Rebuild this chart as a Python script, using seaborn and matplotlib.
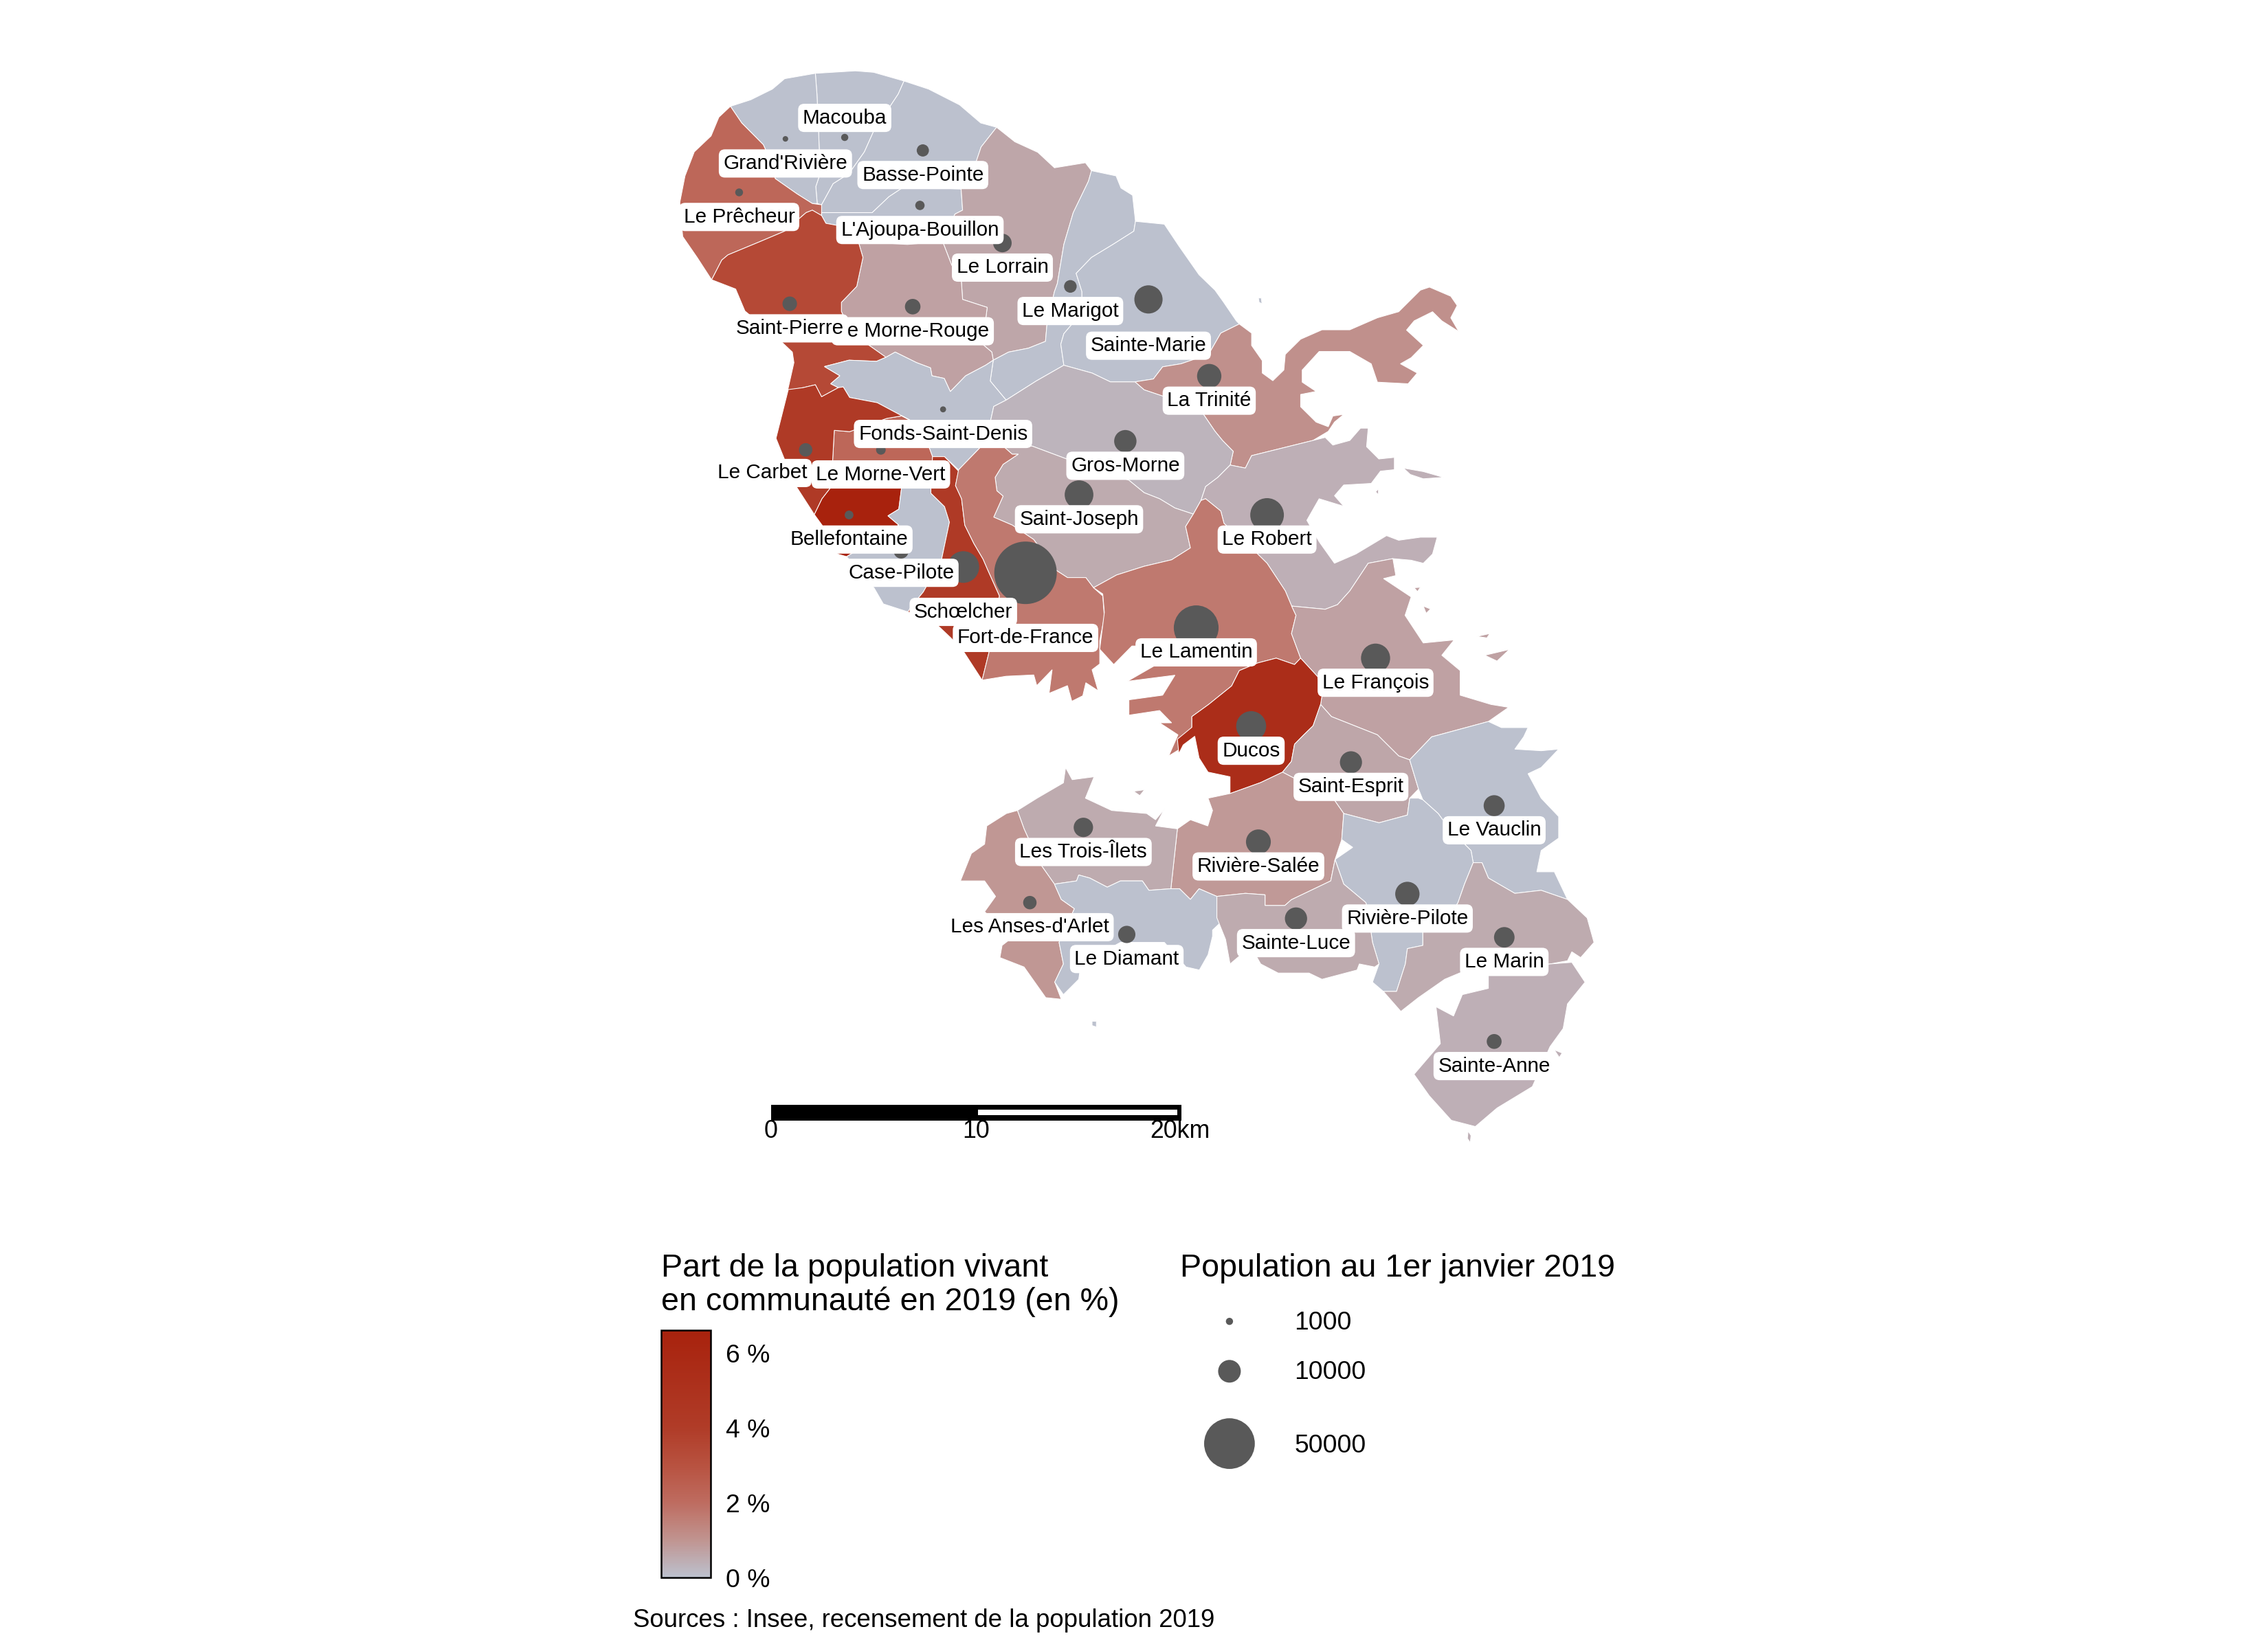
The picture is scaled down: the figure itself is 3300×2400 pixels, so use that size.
# -*- coding: utf-8 -*-
"""Part de la population vivant en communaute, Martinique, 2019."""

import matplotlib.pyplot as plt
import matplotlib.cm as cm
from matplotlib.colors import LinearSegmentedColormap, Normalize
import pandas as pd
import seaborn as sns

communes = ["Macouba", "Grand'Rivière", "Basse-Pointe", "Le Prêcheur", "L'Ajoupa-Bouillon",
            "Le Lorrain", "Le Marigot", "Sainte-Marie", "Le Morne-Rouge", "Saint-Pierre",
            "La Trinité", "Fonds-Saint-Denis", "Le Morne-Vert", "Le Carbet", "Gros-Morne",
            "Saint-Joseph", "Le Robert", "Bellefontaine", "Case-Pilote", "Schœlcher",
            "Fort-de-France", "Le Lamentin", "Le François", "Ducos", "Saint-Esprit",
            "Le Vauclin", "Rivière-Salée", "Les Trois-Îlets", "Rivière-Pilote",
            "Les Anses-d'Arlet", "Le Diamant", "Sainte-Luce", "Le Marin", "Sainte-Anne"]
part_communaute = [0.0, 0.0, 0.0, 2.2, 0.0, 0.6, 0.0, 0.0, 0.7, 3.4,
                   1.1, 0.0, 2.2, 4.2, 0.3, 0.5, 0.4, 6.6, 0.0, 4.2,
                   1.7, 1.7, 0.7, 5.5, 0.6, 0.0, 0.9, 0.5, 0.0,
                   0.95, 0.0, 0.5, 0.5, 0.4]
population = [1000, 600, 2900, 1200, 1700, 6700, 3100, 15500, 4700, 4100,
              11500, 700, 1800, 3500, 9700, 16000, 22000, 1500, 4300, 19500,
              76000, 39000, 16500, 17500, 9500, 8600, 12000, 7300, 11500,
              3500, 5800, 9600, 8200, 4300]
centre_x = [584, 543, 638, 511, 636, 693, 740, 794, 631, 546,
            836, 652, 609, 557, 778, 746, 876, 587, 623, 666,
            709, 827, 951, 865, 934, 1033, 870, 749, 973,
            712, 779, 896, 1040, 1033]
centre_y = [95, 96, 104, 133, 142, 168, 198, 207, 212, 210,
            260, 283, 311, 311, 305, 342, 356, 356, 381, 392,
            396, 434, 455, 502, 527, 557, 582, 572, 618,
            624, 646, 635, 648, 720]

legende_population = [1000, 10000, 50000]
ticks_part = [0, 2, 4, 6]
part_max = 6.62
couleurs_valeurs = [0, 1, 2, 3, 4, 6.62]
couleurs_hex = ["#BCC1CE", "#C09490", "#BE6C60", "#B85240", "#B03C28", "#A8220D"]

# contours des communes (coordonnees de la carte)
contours = {
    "Le Prêcheur": [[(505, 73.5), (497, 81), (491.6, 94), (480, 105), (473.6, 121.6), (470, 140), (472, 163.5),
                     (482, 178), (492, 193.4), (499, 179.8), (503.3, 176.2), (525.5, 167), (542.5, 159.8),
                     (557.3, 147), (561.6, 145.3), (568, 149), (568, 141.6), (561.6, 140.7), (551, 134),
                     (536, 123.5), (530, 105), (527.7, 100), (512.8, 85)]],
    "Grand'Rivière": [[(505, 73.5), (519, 69), (534, 61.6), (542.5, 54.4), (563.7, 50.7), (564.8, 65),
                       (566, 92.5), (567, 120), (564, 129), (565, 140.7), (561.6, 140.7), (551, 134),
                       (536, 123.5), (530, 105), (527.7, 100), (512.8, 85)]],
    "Macouba": [[(563.7, 50.7), (591.3, 49), (604, 50), (625, 56), (621, 65), (604, 90.7), (597.6, 105),
                 (587, 120), (576, 127), (568, 141.6), (565, 140.7), (564, 129), (567, 120), (566, 92.5),
                 (564.8, 65)]],
    "Basse-Pointe": [[(625, 56), (642, 61.6), (663.4, 72.5), (678, 85), (689, 88), (678.3, 101.6), (674, 114.4),
                      (664.5, 130.7), (625.2, 129), (614.6, 136), (603, 147), (568, 147), (568, 141.6),
                      (576, 127), (587, 120), (597.6, 105), (604, 90.7), (621, 65)]],
    "L'Ajoupa-Bouillon": [[(568, 147), (603, 147), (614.6, 136), (625.2, 129), (664.5, 130.7), (665.5, 145.3),
                           (660.2, 148), (651.7, 167), (627.3, 169), (593.4, 167), (578.6, 155.8), (571, 154.4),
                           (568, 149)]],
    "Saint-Pierre": [[(492, 193.4), (499, 179.8), (503.3, 176.2), (525.5, 167), (542.5, 159.8), (557.3, 147),
                      (561.6, 145.3), (568, 149), (571, 154.4), (578.6, 155.8), (593.4, 167), (596.6, 178),
                      (592.3, 198), (581.7, 209), (581.7, 215.3), (587, 227), (599.8, 238), (612.5, 247),
                      (606, 249.8), (587, 249), (570, 253.4), (580.7, 259.8), (574.3, 265.3), (579.6, 268),
                      (568, 274.3), (563.7, 266), (555.2, 268), (544.6, 269.8), (548.9, 250.7), (547.8, 243.4),
                      (537.2, 233.4), (515, 215), (508.6, 199.8)]],
    "Le Morne-Rouge": [[(593.4, 167), (627.3, 169), (651.7, 167), (658, 183.4), (664.5, 192.5), (665.5, 207),
                        (682.5, 212.5), (679.3, 238), (685.7, 243.4), (686.7, 249), (681.4, 252.5), (667.6, 259.8),
                        (657, 270.7), (652.8, 261.6), (644.3, 259.8), (643.3, 254.3), (633.7, 250.7),
                        (618.9, 243.4), (612.5, 247), (599.8, 238), (587, 227), (581.7, 215.3), (581.7, 209),
                        (592.3, 198), (596.6, 178)]],
    "Le Lorrain": [[(689, 88), (701.6, 98), (717.5, 105.3), (729, 116), (750.4, 112.5), (754.6, 118), (752.5, 125.3),
                    (742, 147), (735.5, 169), (731, 196), (729, 201.6), (723.9, 223.4), (722.8, 236), (711, 240.7),
                    (697.3, 243.4), (686.7, 249), (685.7, 243.4), (679.3, 238), (682.5, 212.5), (665.5, 207),
                    (664.5, 192.5), (658, 183.4), (651.7, 167), (660.2, 148), (665.5, 145.3), (664.5, 130.7),
                    (674, 114.4), (678.3, 101.6)]],
    "Le Marigot": [[(754.6, 118), (771.6, 121.6), (775, 130), (783, 135), (785, 153), (783.9, 159.8), (769.4, 169),
                    (754.6, 178), (744, 189), (748, 201.6), (748, 216), (735.5, 230.7), (733.4, 238), (735.5, 252.5),
                    (716.4, 263.4), (695.6, 276.6), (684.6, 263.4), (686.7, 249), (697.3, 243.4), (711, 240.7),
                    (722.8, 236), (723.9, 223.4), (729, 201.6), (731, 196), (735.5, 169), (742, 147), (752.5, 125.3)]],
    "Sainte-Marie": [[(785, 153), (805, 155), (815, 170), (829, 190), (840, 200.6), (846, 209), (854.7, 221.8),
                      (856.8, 224), (844, 230.3), (835.6, 245), (816.5, 251.5), (803.8, 253.6), (797.4, 262),
                      (784.7, 264), (767.7, 264), (755, 257.9), (735.5, 252.5), (733.4, 238), (735.5, 230.7),
                      (748, 216), (748, 201.6), (744, 189), (754.6, 178), (769.4, 169), (783.9, 159.8)],
                     [(870, 206), (872, 206), (872.5, 210), (870.5, 209)]],
    "La Trinité": [[(856.8, 224), (865.3, 230.3), (865.3, 238.8), (872.7, 249.4), (872.7, 257.9), (880, 263.2),
                    (887.6, 255.8), (888.6, 245), (899.2, 234.5), (914, 228), (933.2, 228), (952.3, 219.7),
                    (967, 215.5), (982, 200.6), (988.3, 198.5), (1003, 204.8), (1007.4, 211.2), (1003, 219.7),
                    (1008.5, 229.2), (996.8, 221.8), (990.4, 215.5), (977.7, 221.8), (972.4, 228.2), (984, 238.8),
                    (975.6, 247.3), (968.2, 251.5), (979.8, 257.9), (973.5, 265.3), (952.3, 264.2), (948, 251.5),
                    (933.2, 243), (912, 243), (900.3, 255.8), (900.3, 264.2), (909.9, 270.6), (899.2, 272.7),
                    (899.2, 281.2), (909.9, 291.8), (918.3, 295), (921.5, 287.6), (929, 286.5), (922.6, 291.8),
                    (918.3, 298.2), (907.7, 304.5), (865.3, 315), (861, 323.6), (850.5, 321.5), (852.6, 312),
                    (845.2, 304.5), (839.9, 298), (831.4, 285.5), (803.8, 273.8), (791, 269.5), (784.7, 264),
                    (797.4, 262), (803.8, 253.6), (816.5, 251.5), (835.6, 245), (844, 230.3)]],
    "Gros-Morne": [[(695.6, 276.6), (716.4, 263.4), (735.5, 252.5), (755, 257.9), (767.7, 264), (784.7, 264),
                    (791, 269.5), (803.8, 273.8), (831.4, 285.5), (839.9, 298), (845.2, 304.5), (852.6, 312),
                    (850.5, 321.5), (842, 330), (833.5, 336.4), (830.3, 346), (825, 355.4), (812.3, 351.2),
                    (801.7, 344.8), (791, 340.6), (780.5, 332), (738, 317.5), (713.6, 308.4), (693.5, 308.4),
                    (685, 290.2), (687, 281)]],
    "Saint-Joseph": [[(693.5, 308.4), (713.6, 308.4), (738, 317.5), (780.5, 332), (791, 340.6), (801.7, 344.8),
                      (812.3, 351.2), (825, 355.4), (819.7, 364), (823, 378.8), (810, 387), (791, 391.5),
                      (772, 397.5), (756, 406.3), (750.7, 399.3), (738, 399.3), (729.5, 393.8), (714.7, 373),
                      (699.8, 363), (687, 357.5), (693.5, 343), (689.2, 339.3), (688, 330), (693.5, 321),
                      (704, 314), (699.8, 314)]],
    "Fonds-Saint-Denis": [[(570, 253.4), (587, 249), (606, 249.8), (612.5, 247), (618.9, 243.4), (633.7, 250.7),
                           (643.3, 254.3), (644.3, 259.8), (652.8, 261.6), (657, 270.7), (667.6, 259.8),
                           (681.4, 252.5), (686.7, 249), (684.6, 263.4), (695.6, 276.6), (687, 281), (685, 290.2),
                           (693.5, 308.4), (678.6, 308.4), (662.7, 324.8), (653, 315.7), (644.7, 315.7), (642.6, 310),
                           (632, 292), (606.5, 278.4), (587.4, 274.8), (583, 267.5), (579.6, 268), (574.3, 265.3),
                           (580.7, 259.8)]],
    "Le Carbet": [[(545, 269.3), (536.5, 303), (549, 334), (563, 355.7), (568.3, 344.8), (574.7, 336.6),
                   (575.7, 317.5), (576.8, 297.5), (587.4, 298.4), (612.9, 289.3), (623.5, 287.5), (632, 292),
                   (606.5, 278.4), (587.4, 274.8), (583, 267.5), (579.6, 268), (568, 274.3), (563.7, 266),
                   (555.2, 268)]],
    "Le Morne-Vert": [[(576.8, 297.5), (587.4, 298.4), (612.9, 289.3), (623.5, 287.5), (632, 292), (642.6, 310),
                       (644.7, 315.7), (643.6, 336.6), (623.5, 335.7), (574.7, 336.6), (575.7, 317.5)]],
    "Bellefontaine": [[(574.7, 336.6), (623.5, 335.7), (621.4, 352), (613.9, 356.6), (621.4, 363), (591.7, 381),
                       (585.3, 384.8), (579, 383), (576.8, 379.3), (568.3, 363), (563, 355.7), (568.3, 344.8)]],
    "Case-Pilote": [[(623.5, 335.7), (643.6, 336.6), (643.6, 341), (653, 350.2), (656.4, 361), (651, 386.6),
                     (638.3, 409.3), (630, 419.3), (627.7, 423), (610.7, 417.5), (604.4, 406.6), (585.3, 384.8),
                     (591.7, 381), (621.4, 363), (613.9, 356.6), (621.4, 352)]],
    "Schœlcher": [[(644.7, 315.7), (653, 315.7), (662.7, 325.7), (660.6, 335.7), (664.8, 344.8), (667, 363),
                   (673.3, 375.7), (679.7, 386.6), (682.9, 394), (691, 412), (684, 450), (679, 470.2),
                   (665.9, 450), (657.4, 441), (647.9, 432), (627.7, 423), (630, 419.3), (638.3, 409.3),
                   (651, 386.6), (656.4, 361), (653, 350.2), (643.6, 341), (643.6, 336.6)]],
    "Fort-de-France": [[(678.6, 308.4), (693.5, 308.4), (699.8, 314), (704, 314), (693.5, 321), (688, 330),
                        (689.2, 339.3), (693.5, 343), (687, 357.5), (699.8, 363), (714.7, 373), (729.5, 393.8),
                        (738, 399.3), (750.7, 399.3), (756, 406.3), (762.4, 412), (763.5, 426.6), (760.3, 443),
                        (760.3, 459), (755, 463), (759.2, 477.5), (750.7, 472), (748.6, 481), (741, 484.8),
                        (738, 474), (725.3, 479.3), (727.4, 463), (716.8, 474), (714.7, 466.6), (695.6, 467.5),
                        (679, 470.2), (684, 450), (691, 412), (682.9, 394), (679.7, 386.6), (673.3, 375.7),
                        (667, 363), (664.8, 344.8), (660.6, 335.7), (662.7, 324.8)]],
    "Le Robert": [[(865.3, 315), (907.7, 304.5), (916.2, 302.4), (921.5, 307.7), (933.2, 304.5), (940.6, 296),
                   (945.9, 296), (944.8, 308.8), (953.3, 317.3), (964, 316.2), (964, 324.7), (954.4, 325.7),
                   (948, 334.2), (929, 335.3), (922.6, 342.7), (929, 350), (912, 344.8), (903.5, 359.7), (912, 374.5),
                   (922.6, 389.4), (937.4, 383), (958.6, 370.3), (967, 373.5), (982, 371.4), (993.6, 371.4),
                   (990.4, 383), (984, 389.4), (975.6, 387.3), (963, 386.2), (945.9, 389.4), (933.2, 408.5),
                   (924.7, 418), (916.2, 421.2), (893, 419), (888.6, 408.5), (876, 389.4), (867.4, 380.9),
                   (846.2, 361.8), (844, 353.3), (833.5, 344.8), (830.3, 346), (833.5, 336.4), (842, 330),
                   (850.5, 321.5), (861, 323.6)],
                  [(970.3, 323.6), (984, 326), (998, 330), (984, 331), (975, 328)],
                  [(951, 340), (953, 338), (953, 342)]],
    "Le Lamentin": [[(825, 355.4), (830.3, 346), (833.5, 344.8), (844, 353.3), (846.2, 361.8), (867.4, 380.9),
                     (876, 389.4), (888.6, 408.5), (893, 419), (896, 425.4), (892.9, 438), (899.2, 455), (895, 459.4),
                     (882.3, 455), (869.6, 458.3), (856.8, 463.6), (851.5, 474.2), (835.6, 487), (824, 495.4),
                     (824, 502.8), (818.7, 514.5), (814.4, 518.7), (808, 522.6), (814.4, 508), (801.7, 499.7),
                     (810, 499.7), (801.7, 491.2), (780.5, 494.4), (780.5, 483.8), (803.8, 480.6), (812.3, 466.8),
                     (779.4, 471), (799.6, 459.4), (786.8, 446.6), (782.6, 446.6), (770, 459.4), (760.3, 448.8),
                     (763.5, 423.3), (762.4, 410.6), (756, 406.3), (772, 397.5), (791, 391.5), (810, 387),
                     (823, 378.8), (819.7, 364)]],
    "Le François": [[(893, 419), (916.2, 421.2), (924.7, 418), (933.2, 408.5), (945.9, 389.4), (963, 386.2),
                     (965, 397.9), (956.5, 400), (975.6, 412.7), (971.4, 425.4), (984, 444.5), (1005.3, 442.4),
                     (996.8, 453), (1009.5, 463.6), (1009.5, 480.6), (1030.8, 487), (1043, 489), (1029, 498.8),
                     (989.8, 509.4), (974.6, 525.3), (967, 522.6), (952.3, 508), (920.5, 495.4), (913, 487),
                     (914, 480.6), (911, 467.8), (899.2, 455), (892.9, 438), (896, 425.4)],
                    [(1026.5, 453), (1043.5, 449), (1035, 457)],
                    [(1021, 440), (1030, 438), (1028, 441)],
                    [(977.7, 406.3), (982, 406), (980, 409)],
                    [(984, 419), (989, 421), (986, 424)]],
    "Ducos": [[(856.8, 463.6), (869.6, 458.3), (882.3, 455), (895, 459.4), (899.2, 455), (911, 467.8), (914, 480.6),
               (913, 487), (907.8, 501.8), (901.4, 508), (895, 514.5), (892.8, 526.4), (886.7, 533.8), (871.6, 541),
               (850.4, 548.6), (850.4, 537), (835.2, 533.8), (829, 524), (826, 509), (818, 515), (815, 521),
               (814, 511), (824, 502.8), (824, 495.4), (835.6, 487), (851.5, 474.2)]],
    "Saint-Esprit": [[(913, 487), (920.5, 495.4), (952.3, 508), (967, 522.6), (974.6, 525.3), (980.7, 545.5),
                      (974.6, 551.8), (973, 563.5), (953.4, 568.8), (929, 562.4), (921.6, 551.8), (892.8, 537),
                      (886.7, 533.8), (892.8, 526.4), (895, 514.5), (901.4, 508), (907.8, 501.8)]],
    "Le Vauclin": [[(1029, 498.8), (1038, 503), (1056.4, 503), (1053.4, 509.4), (1047.3, 517.9), (1065.5, 519),
                    (1077.6, 517.9), (1065.5, 530.6), (1056.4, 534.9), (1065.5, 551.8), (1077.6, 564.5),
                    (1077.6, 579.4), (1065.5, 588), (1062.5, 602.7), (1074.6, 602.7), (1083.7, 621.8),
                    (1065.5, 615.5), (1047.3, 617.6), (1029, 607), (1024.6, 596.4), (1018.5, 596.4), (1017, 588),
                    (1002, 573), (994.3, 562.4), (983.7, 552.9), (980.7, 545.5), (974.6, 525.3), (989.8, 509.4)]],
    "Rivière-Pilote": [[(980.7, 551.8), (983.7, 552.9), (994.3, 562.4), (1002, 573), (1017, 588), (1018.5, 596.4),
                        (1012.5, 611.2), (1008, 624), (1002, 634), (983.7, 643), (983.7, 653.6), (973, 655.8),
                        (971.6, 666.4), (965.5, 685.4), (956.4, 685.4), (948.9, 679), (953.4, 666.4), (948.9, 651.5),
                        (945.8, 630.3), (944.3, 624), (929, 611.2), (923, 594.2), (935.2, 585.8), (927.6, 580.4),
                        (929, 562.4), (953.4, 568.8), (973, 563.5), (974.6, 551.8)]],
    "Le Marin": [[(1024.6, 596.4), (1029, 607), (1047.3, 617.6), (1065.5, 615.5), (1083.7, 621.8), (1097.3, 634.6),
                  (1102, 651.5), (1092.8, 662), (1086.7, 658), (1083.7, 664.2), (1071.6, 666.4), (1014, 670.6),
                  (998.8, 677), (980.6, 689.7), (968.5, 699.2), (956.4, 685.4), (965.5, 685.4), (971.6, 666.4),
                  (973, 655.8), (983.7, 653.6), (983.7, 643), (1002, 634), (1008, 624), (1012.5, 611.2),
                  (1018.5, 596.4)]],
    "Sainte-Anne": [[(1071.6, 666.4), (1086.7, 665.3), (1095.8, 679), (1083.7, 694), (1080.7, 711), (1071.6, 723.6),
                     (1059.4, 751.2), (1035, 766), (1020, 778.8), (1003.4, 774.5), (988.2, 757.6), (977.6, 742.7),
                     (995.8, 721.5), (992.8, 696), (1004.9, 702.4), (1011, 687.6), (1029, 683.3), (1029, 672.7)],
                    [(1015, 782), (1017, 785), (1016.5, 790), (1014.5, 787)],
                    [(1074.6, 725.8), (1080, 728), (1078, 731)]],
    "Rivière-Salée": [[(850.4, 548.6), (871.6, 541), (886.7, 533.8), (892.8, 537), (921.6, 551.8), (929, 562.4),
                       (927.6, 580.4), (923, 594.2), (920, 609), (892.8, 622), (888.3, 626), (874.6, 626),
                       (874.6, 618.6), (861, 617.6), (841.3, 619.7), (829, 614.4), (823, 621.8), (815.5, 614.4),
                       (809.5, 614.4), (814, 573), (823, 566.7), (835, 571), (838.3, 560.3), (835.2, 551.8)]],
    "Sainte-Luce": [[(841.3, 619.7), (861, 617.6), (874.6, 618.6), (874.6, 626), (888.3, 626), (892.8, 622), (920, 609),
                     (923, 594.2), (929, 611.2), (944.3, 624), (945.8, 630.3), (948.9, 651.5), (953.4, 666.4),
                     (950.4, 668.5), (939.8, 666.4), (938.2, 670.6), (914, 677), (905, 672.7), (883.7, 672.7),
                     (871.6, 666.4), (868, 660), (858, 660), (850.4, 666.4), (847.3, 649.4), (841.3, 634.5)]],
    "Les Trois-Îlets": [[(703.4, 560.3), (717, 551.8), (735.2, 541.2), (736.7, 530.6), (741.3, 539), (756.4, 537),
                         (750.4, 551.8), (768.6, 560.3), (792.8, 562.4), (798.9, 566.7), (805, 559.3), (798.9, 571),
                         (814, 573), (809.5, 614.4), (794.3, 615.5), (789.8, 609), (774.6, 609), (765.5, 613.3),
                         (753.4, 607), (745.8, 604.9), (744.3, 609), (729, 611.2), (718.6, 596.4), (708, 573)],
                        [(783.7, 547), (791.3, 546), (788, 550)]],
    "Les Anses-d'Arlet": [[(703.4, 560.3), (708, 573), (718.6, 596.4), (729, 611.2), (733.7, 621.8), (742.8, 628.2),
                           (732.2, 651.5), (735.2, 666.4), (729.2, 679), (733.7, 690.8), (723, 689.7), (714, 677),
                           (708, 668.5), (691.3, 662), (692.8, 653.6), (700, 648), (680.7, 630.3), (688.3, 619.7),
                           (680.7, 609), (664, 609), (671.6, 590), (680.7, 583.6), (682.2, 571), (695.8, 562.4)]],
    "Le Diamant": [[(729, 611.2), (744.3, 609), (745.8, 604.9), (753.4, 607), (765.5, 613.3), (774.6, 609),
                    (789.8, 609), (794.3, 615.5), (809.5, 614.4), (815.5, 614.4), (823, 621.8), (829, 614.4),
                    (841.3, 619.7), (841.3, 634.5), (847.3, 634.5), (838.3, 643), (838.3, 647.3), (835.2, 660),
                    (829.2, 670.6), (820, 668.5), (805, 651.5), (774.6, 651.5), (747.3, 666.4), (745.8, 677),
                    (735.2, 687.6), (729.2, 679), (735.2, 666.4), (732.2, 651.5), (742.8, 628.2), (733.7, 621.8)],
                   [(755, 706), (758, 706), (758, 710), (755, 709)]],
}

# repositionnement des etiquettes par rapport au centre de la commune
decalage_etiquette = {"Macouba": (0, -13.5), "Le Carbet": (-30, 16), "Sainte-Marie": (0, 32),
                      "Case-Pilote": (0, 15), "Schœlcher": (0, 31), "Fort-de-France": (0, 45)}

sns.set_theme(style="white")
plt.rcParams['font.family'] = ['Liberation Sans', 'DejaVu Sans']
plt.rcParams['text.color'] = 'black'

cmap = LinearSegmentedColormap.from_list(
    "communaute", [(v / part_max, c) for v, c in zip(couleurs_valeurs, couleurs_hex)])
norm = Normalize(0, part_max)

fig = plt.figure(figsize=(11, 8), dpi=300)
ax = fig.add_axes([0, 0, 1, 1])

for nom, valeur in zip(communes, part_communaute):
    for morceau in contours[nom]:
        xs, ys = zip(*morceau)
        ax.fill(xs, ys, facecolor=cmap(norm(valeur)), edgecolor="white", linewidth=0.25, zorder=1)

df = pd.DataFrame({"commune": communes, "x": centre_x, "y": centre_y, "population": population})
sns.scatterplot(data=df, x="x", y="y", size="population", sizes=(0, 627), size_norm=(0, 100000),
                color="#595959", linewidth=0, legend=False, ax=ax, zorder=2)

# etiquettes : Saint-Pierre passe au-dessus du Morne-Rouge
for nom, x, y in zip(communes, centre_x, centre_y):
    dx, dy = decalage_etiquette.get(nom, (0, 17))
    ax.text(x + dx, y + dy, nom, fontsize=7.15, ha="center", va="center",
            bbox=dict(boxstyle="round,pad=0.22,rounding_size=0.3", fc="white", ec="none"), zorder=3)

# legende des tailles
leg = pd.DataFrame({"x": [850] * 3, "y": [913.5, 948, 998], "population": legende_population})
sns.scatterplot(data=leg, x="x", y="y", size="population", sizes=(0, 627), size_norm=(0, 100000),
                color="#595959", linewidth=0, legend=False, ax=ax, zorder=2)
for v, y in zip(legende_population, [914.5, 949, 999.5]):
    ax.text(895, y, str(v), fontsize=8.95, ha="left", va="center")

ax.text(816, 877, "Population au 1er janvier 2019", fontsize=11.2, ha="left", va="center")
ax.text(457, 888.5, "Part de la population vivant\nen communauté en 2019 (en %)", fontsize=11.2,
        ha="left", va="center", linespacing=1.12)
ax.text(437.5, 1120.5, "Sources : Insee, recensement de la population 2019", fontsize=8.8, ha="left", va="center")

# echelle
ax.fill_between([533, 675], 763.6, 774.5, color="black", lw=0)
ax.fill_between([675, 817], 763.6, 774.5, color="black", lw=0)
ax.fill_between([676, 814], 767, 771, color="white", lw=0)
ax.text(533, 782, "0", fontsize=8.6, ha="center", va="center")
ax.text(675, 782, "10", fontsize=8.6, ha="center", va="center")
ax.text(816, 782, "20km", fontsize=8.6, ha="center", va="center")

ax.set_xlim(0, 1568)
ax.set_ylim(1140, 0)
ax.axis("off")

# barre de couleur
cax = fig.add_axes([962 / 3300, 1 - 2296 / 2400, 72 / 3300, 360 / 2400])
cb = fig.colorbar(cm.ScalarMappable(norm=norm, cmap=cmap), cax=cax)
cb.set_ticks(ticks_part)
cb.set_ticklabels([f"{t} %" for t in ticks_part])
cb.outline.set_linewidth(0.6)
cb.outline.set_edgecolor("black")
cax.tick_params(axis="y", direction="in", left=True, right=True, length=3.3, width=0.5,
                labelsize=8.95, pad=5.3, colors="black")

fig.savefig("out.png", dpi=300)
